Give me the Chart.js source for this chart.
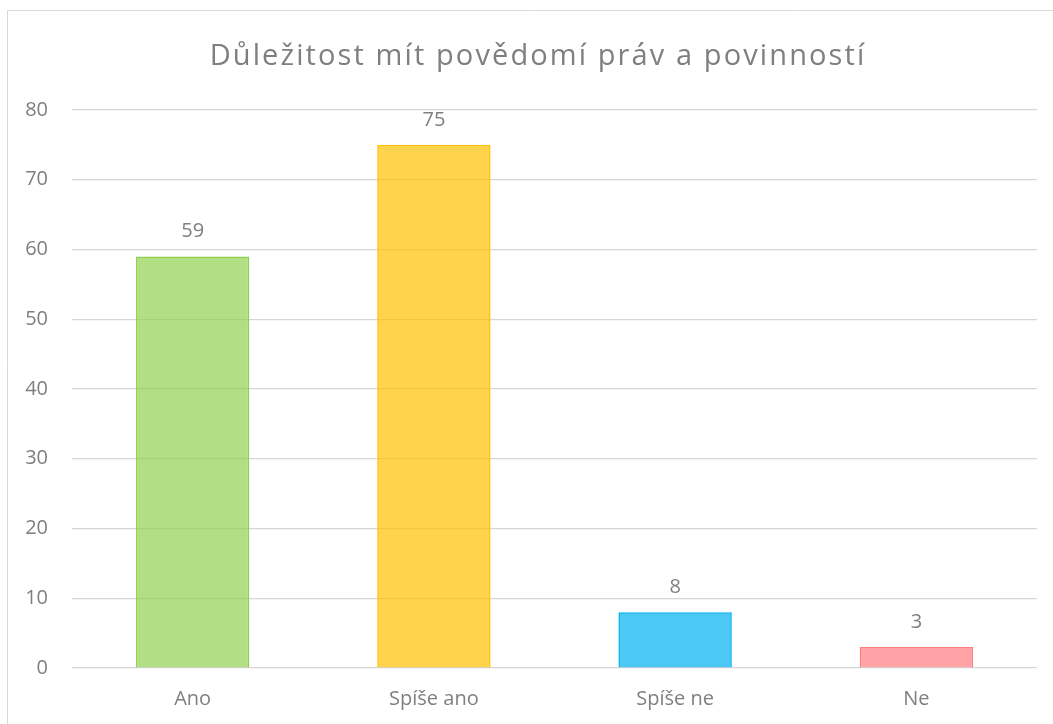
<!DOCTYPE html>
<html>
<head>
<meta charset="utf-8">
<script src="https://cdn.jsdelivr.net/npm/chart.js@4/dist/chart.umd.min.js"></script>
<style>
html,body{margin:0;padding:0;background:#fff;overflow:hidden;}
#wrap{position:absolute;left:0;top:0;width:1053px;height:724px;}
</style>
</head>
<body>
<div id="wrap"><canvas id="c" width="1053" height="724"></canvas></div>
<script>
const title = "Důležitost mít povědomí práv a povinností";
const categories = ["Ano", "Spíše ano", "Spíše ne", "Ne"];
const values = [59, 75, 8, 3];
const borderColors = ["#92d050", "#ffc000", "#00b0f0", "#ff7c80"];
const fillColors = ["rgba(146,208,80,0.7)", "rgba(255,192,0,0.7)", "rgba(0,176,240,0.7)", "rgba(255,124,128,0.7)"];
const yMin = 0, yMax = 80, yStep = 10;

const FONT = "'Open Sans', 'Liberation Sans', sans-serif";
const TXT = "#7f7f7f";

const framePlugin = {
  id: 'frame',
  beforeDraw(chart) {
    const ctx = chart.ctx;
    ctx.save();
    ctx.fillStyle = '#fff';
    ctx.fillRect(0, 0, chart.width, chart.height);
    ctx.strokeStyle = '#d9d9d9';
    ctx.lineWidth = 1;
    ctx.beginPath();
    ctx.moveTo(7.5, chart.height + 2);
    ctx.lineTo(7.5, 10.5);
    ctx.lineTo(chart.width + 2, 10.5);
    ctx.stroke();
    ctx.fillStyle = '#7f7f7f';
    ctx.font = "29px " + FONT;
    if ('letterSpacing' in ctx) ctx.letterSpacing = '2.1px';
    ctx.textAlign = 'center';
    ctx.textBaseline = 'middle';
    ctx.fillText(title, 538, 57);
    ctx.restore();
  }
};

const labelPlugin = {
  id: 'valueLabels',
  afterDatasetsDraw(chart) {
    const ctx = chart.ctx;
    const meta = chart.getDatasetMeta(0);
    ctx.save();
    ctx.fillStyle = TXT;
    ctx.font = "20px " + FONT;
    ctx.textAlign = 'center';
    ctx.textBaseline = 'middle';
    meta.data.forEach((bar, i) => {
      ctx.fillText(String(values[i]), bar.x, bar.y - 25);
    });
    ctx.restore();
  }
};

new Chart(document.getElementById('c'), {
  type: 'bar',
  data: {
    labels: categories,
    datasets: [{
      data: values,
      backgroundColor: fillColors,
      borderColor: borderColors,
      borderWidth: 1.5,
      barPercentage: 0.94,
      categoryPercentage: 0.5
    }]
  },
  options: {
    responsive: false,
    animation: false,
    layout: { padding: { left: 8, right: 16, top: 110, bottom: 0 } },
    plugins: { legend: { display: false }, title: { display: false }, tooltip: { enabled: false } },
    scales: {
      x: {
        grid: { display: false, drawTicks: false },
        border: { display: false },
        ticks: { color: TXT, font: { family: FONT, size: 20 }, padding: 19 },
        afterFit(s) { s.height = 56; }
      },
      y: {
        min: yMin, max: yMax,
        grid: { color: '#d6d6d6', lineWidth: 1.2, drawTicks: false },
        border: { display: false },
        ticks: { stepSize: yStep, color: TXT, font: { family: FONT, size: 20 }, padding: 24 },
        afterFit(s) { s.width = 64; }
      }
    }
  },
  plugins: [framePlugin, labelPlugin]
});
</script>
</body>
</html>
